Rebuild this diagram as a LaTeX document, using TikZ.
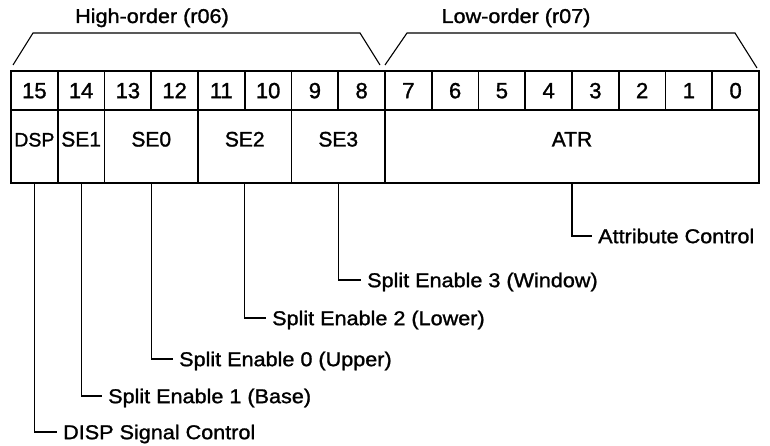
\documentclass[tikz,border=0pt]{standalone}
\usepackage{fontspec}
\setmainfont[FakeBold=1.3]{Liberation Sans}
\newfontfamily\lblfont[FakeStretch=1.08,FakeBold=1.3]{Liberation Sans}
\begin{document}
\begin{tikzpicture}[x=1pt,y=-1pt,
  cell/.style={draw,line width=1.7pt,minimum width=46.75pt,minimum height=39pt,inner sep=0pt,
    font=\fontsize{22}{24}\selectfont,text height=15.5pt,text depth=0pt},
  field/.style={draw,line width=1.7pt,minimum height=73pt,inner sep=0pt,
    font=\fontsize{21}{24}\selectfont,text height=15pt,text depth=15pt},
  lbl/.style={font=\lblfont\fontsize{20}{24}\selectfont,anchor=west,inner xsep=6pt,inner ysep=0pt,
    text height=14.3pt,text depth=0pt},
  ttl/.style={font=\lblfont\fontsize{20}{24}\selectfont,anchor=base,inner sep=0pt},
  leader/.style={line width=1.1pt},
  brace/.style={line width=1.1pt}]
\useasboundingbox (0,0) rectangle (770,446);
% bit cells
\foreach \i in {0,...,15}{
  \pgfmathsetmacro\cx{11+(15-\i)*46.75+23.375}
  \node[cell] (b\i) at (\cx,90.5) {\i};
}
% fields
\node[field,minimum width=46.75pt,font=\fontsize{19.5}{24}\selectfont] (dsp) at (34.375,146.5) {DSP};
\node[field,minimum width=46.75pt] (se1) at (81.125,146.5) {SE1};
\node[field,minimum width=93.5pt] (se0) at (151.25,146.5) {SE0};
\node[field,minimum width=93.5pt] (se2) at (244.75,146.5) {SE2};
\node[field,minimum width=93.5pt] (se3) at (338.25,146.5) {SE3};
\node[field,minimum width=374pt] (atr) at (572,146.5) {ATR};
% brackets
\coordinate (ha) at (13,65); \coordinate (hb) at (33,33);
\coordinate (hc) at (360,33); \coordinate (hd) at (380,65);
\coordinate (la) at (385,65); \coordinate (lb) at (407,33);
\coordinate (lc) at (735,33); \coordinate (ld) at (757,68);
\draw[brace] (ha) -- (hb) -- (hc) -- (hd);
\draw[brace] (la) -- (lb) -- (lc) -- (ld);
\node[ttl] (hi) at (152,23) {High-order (r06)};
\node[ttl] (lo) at (516,23) {Low-order (r07)};
% labels
\node[lbl] (ldsp) at (57,432) {DISP Signal Control};
\node[lbl] (lse1) at (102,396) {Split Enable 1 (Base)};
\node[lbl] (lse0) at (173,359) {Split Enable 0 (Upper)};
\node[lbl] (lse2) at (266,318) {Split Enable 2 (Lower)};
\node[lbl] (lse3) at (361,280) {Split Enable 3 (Window)};
\node[lbl] (latr) at (592,236) {Attribute Control};
\draw[leader] (dsp.south) |- (ldsp.west);
\draw[leader] (se1.south) |- (lse1.west);
\draw[leader] (se0.south) |- (lse0.west);
\draw[leader] (se2.south) |- (lse2.west);
\draw[leader] (se3.south) |- (lse3.west);
\draw[leader] (atr.south) |- (latr.west);
\end{tikzpicture}
\end{document}
